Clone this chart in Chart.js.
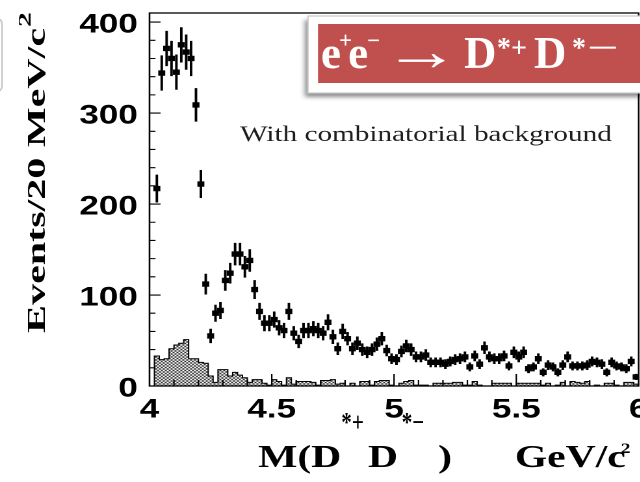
<!DOCTYPE html>
<html>
<head>
<meta charset="utf-8">
<script src="https://cdn.jsdelivr.net/npm/chart.js@4.4.1/dist/chart.umd.min.js"></script>
<style>
  html, body { margin: 0; padding: 0; background: #fff; }
  #frame { position: relative; width: 640px; height: 482px; overflow: hidden; background: #fff; }
  /* the plot is drawn 1.3x narrower and widened back, giving the wide glyph shapes */
  #stretch { position: absolute; left: 0; top: 0; width: 520px; height: 482px;
             transform: scaleX(1.3); transform-origin: 0 0; }
</style>
</head>
<body>
<div id="frame"><div id="stretch"><canvas id="c" width="520" height="482"></canvas></div></div>
<script>
// M(D*+ D*-) bin centres, GeV/c^2 (20 MeV bins from threshold)
const massCenters = [
  4.03, 4.05, 4.07, 4.09, 4.11, 4.13, 4.15, 4.17, 4.19, 4.21,
  4.23, 4.25, 4.27, 4.29, 4.31, 4.33, 4.35, 4.37, 4.39, 4.41,
  4.43, 4.45, 4.47, 4.49, 4.51, 4.53, 4.55, 4.57, 4.59, 4.61,
  4.63, 4.65, 4.67, 4.69, 4.71, 4.73, 4.75, 4.77, 4.79, 4.81,
  4.83, 4.85, 4.87, 4.89, 4.91, 4.93, 4.95, 4.97, 4.99, 5.01,
  5.03, 5.05, 5.07, 5.09, 5.11, 5.13, 5.15, 5.17, 5.19, 5.21,
  5.23, 5.25, 5.27, 5.29, 5.31, 5.33, 5.35, 5.37, 5.39, 5.41,
  5.43, 5.45, 5.47, 5.49, 5.51, 5.53, 5.55, 5.57, 5.59, 5.61,
  5.63, 5.65, 5.67, 5.69, 5.71, 5.73, 5.75, 5.77, 5.79, 5.81,
  5.83, 5.85, 5.87, 5.89, 5.91, 5.93, 5.95, 5.97, 5.99
];

// Events per bin (data with combinatorial background)
const eventCounts = [
  217, 344, 371, 360, 345, 375, 367, 360, 309, 222,
  112, 55, 80, 83, 116, 124, 145, 145, 131, 138,
  106, 82, 69, 69, 73, 64, 61, 82, 58, 49,
  61, 61, 63, 61, 58, 70, 54, 41, 60, 52,
  41, 47, 40, 37, 40, 46, 52, 39, 30, 29,
  38, 44, 40, 32, 32, 34, 26, 26, 26, 24,
  27, 29, 30, 32, 21, 33, 24, 42, 32, 30,
  30, 33, 22, 37, 32, 37, 19, 21, 30, 15,
  23, 21, 15, 23, 32, 22, 22, 22, 23, 27,
  26, 24, 15, 26, 22, 21, 19, 27, 10
];

// Statistical error per bin
const eventErrors = [
  15, 19, 19, 19, 19, 19, 19, 19, 18, 15,
  11, 7.5, 9, 9, 11, 11, 12, 12, 11.5, 12,
  10, 9, 8.5, 8.5, 8.5, 8, 8, 9, 7.5, 7,
  8, 8, 8, 8, 7.5, 8.5, 7.5, 6.5, 8, 7,
  6.5, 7, 6.5, 6, 6.5, 7, 7, 6, 5.5, 5.5,
  6, 6.5, 6.5, 5.5, 5.5, 6, 5, 5, 5, 5,
  5, 5.5, 5.5, 5.5, 4.5, 5.5, 5, 6.5, 5.5, 5.5,
  5.5, 5.5, 4.5, 6, 5.5, 6, 4.5, 4.5, 5.5, 4,
  5, 4.5, 4, 5, 5.5, 4.5, 4.5, 4.5, 5, 5,
  5, 5, 4, 5, 4.5, 4.5, 4.5, 5, 3
];

// Combinatorial background estimate (hatched histogram)
const bkgCounts = [
  33, 29, 30, 41, 45, 47, 51, 30, 30, 26,
  25, 11, 4, 18, 18, 11, 15, 12, 9, 4,
  7, 7, 3, 1, 7, 5, 1, 9, 2, 5,
  5, 5, 4, 1, 6, 6, 7, 2, 3, 0,
  3, 0, 5, 5, 1, 5, 6, 6, 1, 0,
  3, 5, 6, 1, 1, 1, 0, 3, 3, 3,
  3, 4, 4, 1, 1, 5, 1, 0, 0, 3,
  3, 3, 3, 0, 3, 3, 3, 3, 3, 1,
  3, 0, 1, 4, 0, 5, 4, 3, 5, 0,
  1, 0, 3, 3, 1, 0, 4, 4, 2
];

const binHalfWidth = 0.01;
const xTickValues = [4, 4.5, 5, 5.5, 6];
const xTickLabels = ['4', '4.5', '5', '5.5', '6'];
const yTickValues = [0, 100, 200, 300, 400];
const yTickLabels = ['0', '100', '200', '300', '400'];

// ---- datasets built from the arrays ----
const pointData = massCenters.map((m, i) => ({ x: m, y: eventCounts[i] }));
const errorData = massCenters.map((m, i) => ({ x: m, y: [eventCounts[i] - eventErrors[i], eventCounts[i] + eventErrors[i]] }));
const bkgOutline = [{ x: massCenters[0] - binHalfWidth, y: 0 }];
massCenters.forEach((m, i) => bkgOutline.push({ x: m - binHalfWidth, y: bkgCounts[i] }));
const lastM = massCenters[massCenters.length - 1] + binHalfWidth;
bkgOutline.push({ x: lastM, y: bkgCounts[bkgCounts.length - 1] });
bkgOutline.push({ x: lastM, y: 0 });

const canvas = document.getElementById('c');
const ctx0 = canvas.getContext('2d');

// cross-hatch fill for the background histogram
function makeHatch() {
  const t = document.createElement('canvas');
  t.width = 4; t.height = 4;
  const g = t.getContext('2d');
  g.fillStyle = '#fff';
  g.fillRect(0, 0, 4, 4);
  g.fillStyle = '#333';
  [[0,0],[1,1],[2,2],[3,3],[3,0],[2,1],[1,2],[0,3]].forEach(([a, b]) => g.fillRect(a, b, 1, 1));
  const p = ctx0.createPattern(t, 'repeat');
  if (p.setTransform) p.setTransform(new DOMMatrix([0.75, 0, 0, 0.75, 0, 0]));
  return p;
}

const SERIF = '"Liberation Serif", "Times New Roman", serif';
const SANS = '"Liberation Sans", Arial, sans-serif';

// text drawn with separate horizontal / vertical scale factors
function scaledText(ctx, text, x, y, kx, ky) {
  ctx.save();
  ctx.translate(x, y);
  ctx.scale(kx, ky === undefined ? 1 : ky);
  ctx.fillText(text, 0, 0);
  ctx.restore();
}

const framePlugin = {
  id: 'frameTicks',
  afterDatasetsDraw(chart) {
    const { ctx, chartArea: a, scales: { x, y } } = chart;
    ctx.save();
    ctx.strokeStyle = '#000';
    ctx.lineWidth = 1.3;
    ctx.strokeRect(a.left, a.top, a.right - a.left, a.bottom - a.top);
    ctx.lineWidth = 1.1;
    ctx.beginPath();
    for (let v = 0; v <= 400; v += 20) {
      const py = y.getPixelForValue(v);
      const len = v % 100 === 0 ? 8.5 : 4.6;
      ctx.moveTo(a.left, py); ctx.lineTo(a.left + len, py);
    }
    for (let k = 1; k < 20; k++) {
      const px = x.getPixelForValue(4 + k * 0.1);
      const len = k % 5 === 0 ? 12 : 6;
      ctx.moveTo(px, a.bottom); ctx.lineTo(px, a.bottom - len);
    }
    ctx.stroke();
    ctx.restore();
  },
  afterDraw(chart) {
    const ctx = chart.ctx;
    ctx.save();
    ctx.fillStyle = '#000';
    ctx.textAlign = 'left';
    ctx.textBaseline = 'alphabetic';

    // y axis title, rotated
    ctx.save();
    ctx.font = 'bold 20px ' + SERIF;
    const yMain = 'Events/20 MeV/c';
    const wMain = ctx.measureText(yMain).width;
    const sx = 305 / wMain;
    ctx.translate(34.6, 333);
    ctx.rotate(-Math.PI / 2);
    ctx.scale(sx, 1);
    ctx.fillText(yMain, 0, 0);
    ctx.font = 'bold 14px ' + SERIF;
    ctx.fillText('2', wMain + 0.5, -11);
    ctx.restore();

    // x axis title
    ctx.font = 'bold 32px ' + SERIF;
    ctx.fillText('M(D', 198.5, 467);
    ctx.fillText('D', 283, 467);
    ctx.fillText(')', 337, 467);
    ctx.fillText('GeV/c', 396, 467);
    ctx.font = 'bold 27px ' + SERIF;
    scaledText(ctx, '*+', 262.5, 431, 0.6);
    scaledText(ctx, '*\u2212', 309, 431, 0.6);
    ctx.font = 'bold 15px ' + SERIF;
    ctx.fillText('2', 477.5, 453);

    // in-plot note
    ctx.save();
    ctx.font = '22px ' + SERIF;
    ctx.fillStyle = '#1e1e1e';
    const note = 'With combinatorial background';
    const wn = ctx.measureText(note).width;
    ctx.translate(184.6, 141);
    ctx.scale(286 / wn, 1);
    ctx.fillText(note, 0, 0);
    ctx.restore();

    // reaction banner (unstretched page coordinates)
    ctx.save();
    ctx.scale(1 / 1.3, 1);
    // edge of a neighbouring frame at the far left
    ctx.fillStyle = '#fff';
    ctx.strokeStyle = '#c4c4c4';
    ctx.lineWidth = 1.5;
    ctx.beginPath();
    ctx.roundRect(-20, 18, 22, 74, 6);
    ctx.fill(); ctx.stroke();

    ctx.save();
    ctx.shadowColor = 'rgba(0,0,0,0.45)';
    ctx.shadowBlur = 8;
    ctx.shadowOffsetX = -5;
    ctx.shadowOffsetY = 8;
    ctx.fillStyle = '#fff';
    ctx.fillRect(308, 16, 350, 77);
    ctx.restore();
    ctx.strokeStyle = '#c8c8c8';
    ctx.lineWidth = 1.2;
    ctx.strokeRect(308, 16, 350, 77);
    ctx.fillStyle = '#c0504d';
    ctx.fillRect(318, 24, 340, 59);

    ctx.fillStyle = '#fff';
    ctx.font = 'bold 45px ' + SERIF;
    ctx.fillText('e', 321, 68);
    ctx.fillText('e', 348, 68);
    ctx.fillText('D', 464, 68);
    ctx.fillText('D', 534, 68);
    // long arrow
    const wa = ctx.measureText('\u2192').width;
    scaledText(ctx, '\u2192', 383, 70, 77 / wa, 1.25);
    ctx.font = 'bold 23px ' + SERIF;
    ctx.fillText('+', 339, 48);
    ctx.fillText('\u2212', 367, 48);
    ctx.font = 'bold 28px ' + SERIF;
    ctx.fillText('*+', 497, 57);
    ctx.fillText('*', 572, 57);
    scaledText(ctx, '\u2212', 587, 57, 2);
    ctx.restore();

    ctx.restore();
  }
};

new Chart(canvas, {
  type: 'scatter',
  data: {
    datasets: [
      {
        type: 'scatter',
        label: 'Data',
        data: pointData,
        showLine: false,
        pointStyle: 'rect',
        pointRadius: 3.8,
        pointBackgroundColor: '#000',
        pointBorderWidth: 0,
        order: 0
      },
      {
        type: 'bar',
        label: 'Error',
        data: errorData,
        backgroundColor: '#000',
        barThickness: 1.3,
        grouped: false,
        order: 1
      },
      {
        type: 'line',
        label: 'Combinatorial background',
        data: bkgOutline,
        showLine: true,
        stepped: 'before',
        borderColor: '#000',
        borderWidth: 1,
        pointRadius: 0,
        fill: 'origin',
        backgroundColor: makeHatch(),
        order: 2
      }
    ]
  },
  options: {
    responsive: false,
    devicePixelRatio: 2,
    animation: false,
    events: [],
    layout: { padding: { left: 0, top: 13, right: 28.8, bottom: 0 } },
    plugins: { legend: { display: false }, tooltip: { enabled: false } },
    scales: {
      x: {
        type: 'linear',
        min: 4, max: 6,
        offset: false,
        grid: { display: false, drawTicks: false, offset: false },
        border: { display: false },
        afterBuildTicks: s => { s.ticks = xTickValues.map(v => ({ value: v })); },
        afterFit: s => { s.height = 96; s.paddingLeft = 0; s.paddingRight = 0; },
        ticks: {
          padding: 8,
          color: '#000',
          maxRotation: 0,
          autoSkip: false,
          font: { family: SANS, weight: 'bold', size: 27 },
          callback: v => { const i = xTickValues.indexOf(v); return i >= 0 ? xTickLabels[i] : ''; }
        }
      },
      y: {
        type: 'linear',
        min: 0, max: 410,
        grid: { display: false, drawTicks: false },
        border: { display: false },
        afterBuildTicks: s => { s.ticks = yTickValues.map(v => ({ value: v })); },
        afterFit: s => { s.width = 115; s.paddingTop = 0; s.paddingBottom = 0; },
        ticks: {
          padding: 9,
          labelOffset: 3,
          color: '#000',
          autoSkip: false,
          font: { family: SANS, weight: 'bold', size: 27 },
          callback: v => { const i = yTickValues.indexOf(v); return i >= 0 ? yTickLabels[i] : ''; }
        }
      }
    }
  },
  plugins: [framePlugin]
});
</script>
</body>
</html>
